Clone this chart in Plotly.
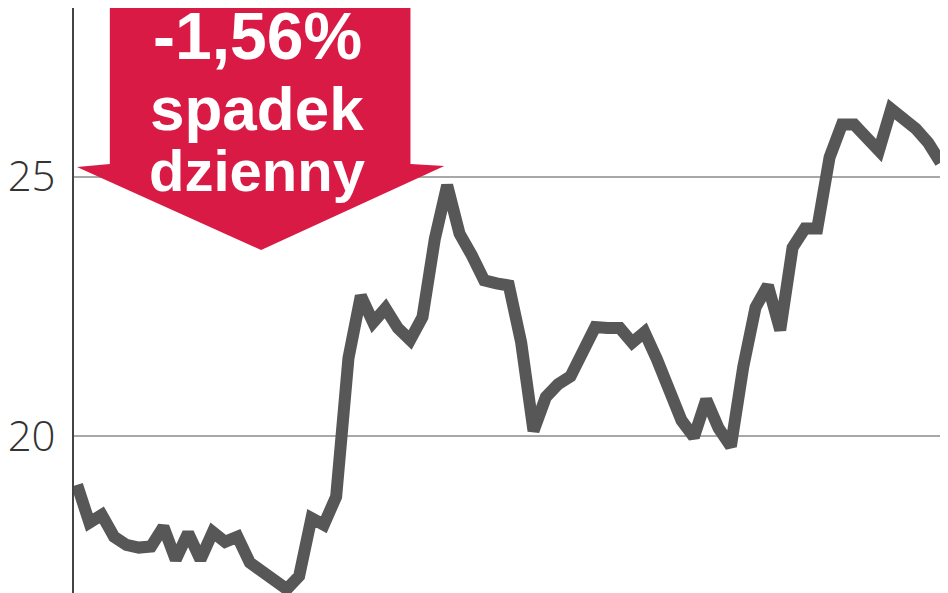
import plotly.graph_objects as go

# daily closing prices
days = list(range(71))
price = [
    19.06, 18.33, 18.48, 18.06, 17.90, 17.85, 17.87, 18.25, 17.62, 18.13,
    17.62, 18.15, 17.96, 18.06, 17.56, 17.38, 17.20, 17.05, 17.30, 18.42,
    18.29, 18.83, 21.50, 22.70, 22.19, 22.46, 22.08, 21.85, 22.29, 23.80,
    24.83, 23.90, 23.48, 23.00, 22.94, 22.90, 21.80, 20.10, 20.75, 21.00,
    21.15, 21.67, 22.10, 22.08, 22.08, 21.80, 22.00, 21.48, 20.87, 20.30,
    19.98, 20.70, 20.15, 19.80, 21.33, 22.48, 22.90, 22.04, 23.63, 24.00,
    24.00, 25.37, 26.00, 26.00, 25.75, 25.50, 26.30, 26.13, 25.92, 25.65,
    25.27,
]

tick_vals = [20, 25]
tick_text = ["20", "25"]
badge_lines = ["-1,56%", "spadek", "dzienny"]

# page body has an 8px margin, so the figure is shifted by OFF
OFF = 8
W, H = 948 - OFF, 593 - OFF
L = 70 - OFF
RED = "#d91a45"


def px(x):
    return (x - OFF - L) / (W - L)


def py(y):
    return 1 - (y - OFF) / H


fig = go.Figure()

fig.add_trace(go.Scatter(
    x=days, y=price,
    mode="lines",
    line=dict(color="#575757", width=12),
    showlegend=False,
    hoverinfo="skip",
    cliponaxis=False,
))

# red arrow badge
arrow = [(106, -20), (408, -20), (408, 164), (442, 166), (258, 250),
         (73, 167), (106, 164)]
path = "M " + " L ".join(f"{px(a)},{py(b)}" for a, b in arrow) + " Z"
fig.add_shape(type="path", path=path, xref="paper", yref="paper",
              fillcolor=RED, line=dict(width=0), layer="above")

for txt, yc, size in zip(badge_lines, [36, 108, 170], [66, 62, 58]):
    fig.add_annotation(
        x=px(254), y=py(yc), xref="paper", yref="paper",
        text=f"<b>{txt}</b>", showarrow=False,
        xanchor="center", yanchor="middle",
        font=dict(family="Liberation Sans", size=size, color="white"),
    )

fig.update_layout(
    width=W, height=H,
    margin=dict(l=L, r=0, t=0, b=0),
    plot_bgcolor="white",
    paper_bgcolor="white",
)
fig.update_xaxes(
    range=[-0.25, 70.6],
    showgrid=False, zeroline=False, showticklabels=False, showline=False,
)
fig.update_yaxes(
    range=[16.975, 28.247],
    tickvals=tick_vals, ticktext=tick_text,
    showgrid=True, gridcolor="#a8a8a8", gridwidth=2,
    zeroline=False,
    showline=True, linecolor="#444444", linewidth=2,
    ticks="", ticklabelstandoff=8,
    tickfont=dict(family="Open Sans", size=42, color="#333333", weight=300),
)

fig.write_html("out.html")
